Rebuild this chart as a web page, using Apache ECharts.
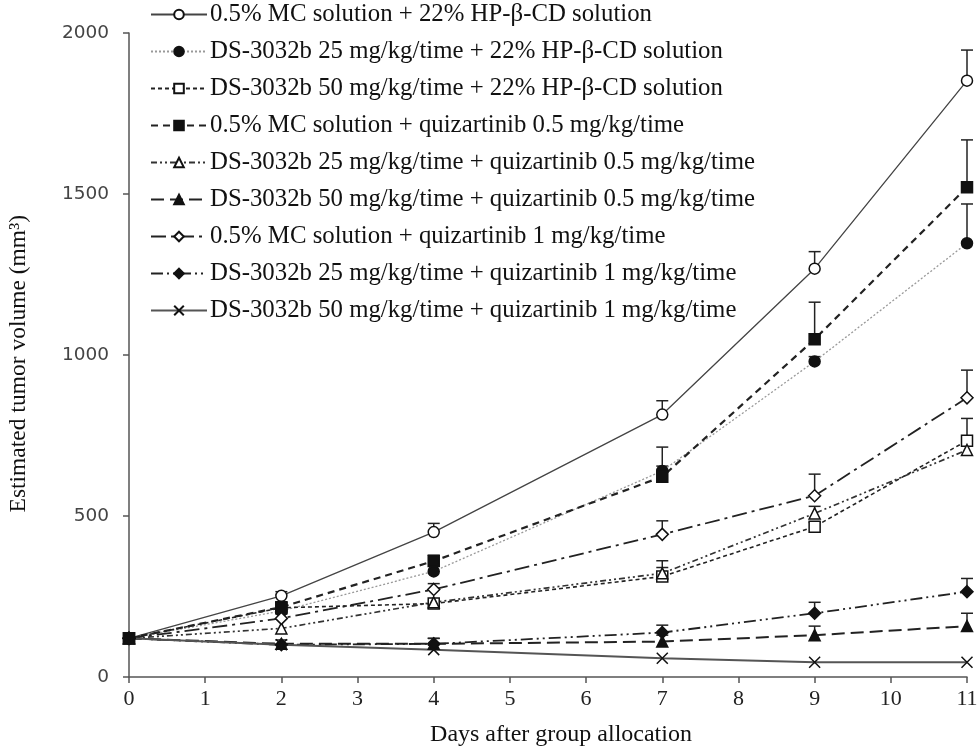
<!DOCTYPE html>
<html>
<head>
<meta charset="utf-8">
<script src="https://cdn.jsdelivr.net/npm/echarts@6/dist/echarts.min.js"></script>
<style>html,body{margin:0;padding:0;background:#fff;}#c{width:977px;height:748px;}</style>
</head>
<body>
<div id="c"></div>
<script>
const days = [0, 2, 4, 7, 9, 11];
const xTicks = [0,1,2,3,4,5,6,7,8,9,10,11];
const yTicks = [0, 500, 1000, 1500, 2000];

const names = [
  '0.5% MC solution + 22% HP-β-CD solution',
  'DS-3032b 25 mg/kg/time + 22% HP-β-CD solution',
  'DS-3032b 50 mg/kg/time + 22% HP-β-CD solution',
  '0.5% MC solution + quizartinib 0.5 mg/kg/time',
  'DS-3032b 25 mg/kg/time + quizartinib 0.5 mg/kg/time',
  'DS-3032b 50 mg/kg/time + quizartinib 0.5 mg/kg/time',
  '0.5% MC solution + quizartinib 1 mg/kg/time',
  'DS-3032b 25 mg/kg/time + quizartinib 1 mg/kg/time',
  'DS-3032b 50 mg/kg/time + quizartinib 1 mg/kg/time'
];

// mean values
const mcHp     = [120, 252, 450, 815, 1268, 1852];
const ds25Hp   = [120, 205, 328, 640, 980, 1347];
const ds50Hp   = [120, 215, 228, 312, 467, 734];
const mcQ05    = [120, 217, 360, 622, 1049, 1521];
const ds25Q05  = [120, 151, 232, 322, 508, 705];
const ds50Q05  = [120, 103, 103, 110, 130, 158];
const mcQ1     = [120, 182, 272, 443, 563, 867];
const ds25Q1   = [120, 100, 103, 138, 198, 265];
const ds50Q1   = [120, 100, 85, 58, 46, 46];

// upper error bar ends
const mcHpTop    = [120, 265, 477, 858, 1321, 1947];
const ds25HpTop  = [120, 212, 338, 655, 995, 1469];
const ds50HpTop  = [120, 222, 240, 361, 480, 803];
const mcQ05Top   = [120, 230, 378, 714, 1164, 1668];
const ds25Q05Top = [120, 160, 240, 340, 530, 720];
const ds50Q05Top = [120, 112, 120, 130, 158, 198];
const mcQ1Top    = [120, 195, 290, 485, 630, 953];
const ds25Q1Top  = [120, 115, 120, 161, 232, 306];
const ds50Q1Top  = [120, 112, 100, 65, 52, 52];

const means = [mcHp, ds25Hp, ds50Hp, mcQ05, ds25Q05, ds50Q05, mcQ1, ds25Q1, ds50Q1];
const tops  = [mcHpTop, ds25HpTop, ds50HpTop, mcQ05Top, ds25Q05Top, ds50Q05Top, mcQ1Top, ds25Q1Top, ds50Q1Top];

const styles = [
  {symbol:'circle', fill:'#fff', size:11, color:'#444', width:1.3, type:'solid'},
  {symbol:'circle', fill:'#111', size:11, color:'#999', width:1.3, type:[2,2]},
  {symbol:'rect', fill:'#fff', size:11, color:'#222', width:1.6, type:[4,3]},
  {symbol:'rect', fill:'#111', size:11, color:'#222', width:2.2, type:[7,5]},
  {symbol:'triangle', fill:'#fff', size:11, color:'#333', width:1.7, type:[6,3,2,3,2,3]},
  {symbol:'triangle', fill:'#111', size:11, color:'#222', width:2, type:[13,6]},
  {symbol:'diamond', fill:'#fff', size:12, color:'#222', width:1.8, type:[15,5,3,5]},
  {symbol:'diamond', fill:'#111', size:12, color:'#222', width:1.8, type:[12,4,2,4,2,4]},
  {symbol:'path://M0,0L10,10M10,0L0,10', fill:'#fff', size:11, color:'#555', width:2, type:'solid'}
];

const series = [];
names.forEach((n, i) => {
  const st = styles[i];
  series.push({
    name: n, type: 'line', z: 3,
    data: days.map((d, k) => [d, means[i][k]]),
    symbol: st.symbol, symbolSize: st.size, showAllSymbol: true,
    lineStyle: {color: st.color, width: st.width, type: st.type},
    itemStyle: {color: st.fill, borderColor: '#111', borderWidth: 1.5},
    emphasis: {disabled: true},
    animation: false
  });
  series.push({
    type: 'custom', z: 2, silent: true, animation: false,
    data: days.map((d, k) => [d, means[i][k], tops[i][k]]),
    renderItem: function (params, api) {
      const p0 = api.coord([api.value(0), api.value(1)]);
      const p1 = api.coord([api.value(0), api.value(2)]);
      if (Math.abs(p0[1] - p1[1]) < 4) return null;
      const s = {stroke: '#222', lineWidth: 1.5};
      return {type: 'group', children: [
        {type: 'line', shape: {x1: p0[0], y1: p0[1], x2: p1[0], y2: p1[1]}, style: s},
        {type: 'line', shape: {x1: p1[0] - 6, y1: p1[1], x2: p1[0] + 6, y2: p1[1]}, style: s}
      ]};
    }
  });
});

const chart = echarts.init(document.getElementById('c'), null, {renderer: 'canvas'});
chart.setOption({
  backgroundColor: '#fff',
  animation: false,
  grid: {left: 129, right: 10, top: 33, bottom: 71, containLabel: false, outerBoundsMode: 'none'},
  legend: {
    data: names, orient: 'vertical', left: 150, top: 2, padding: 0,
    itemWidth: 56, itemHeight: 12, itemGap: 12,
    textStyle: {fontFamily: 'Liberation Serif', fontSize: 24.8, color: '#111', padding: [0,0,0,-2]},
    selectedMode: false
  },
  xAxis: {
    type: 'value', min: 0, max: 11, interval: 1,
    name: 'Days after group allocation', nameLocation: 'middle', nameGap: 46,
    nameTextStyle: {fontFamily: 'Liberation Serif', fontSize: 24, color: '#111', padding: [0,0,0,26]},
    axisLine: {lineStyle: {color: '#555', width: 1.5}},
    axisTick: {show: true, length: 6, lineStyle: {color: '#555', width: 1.5}},
    axisLabel: {fontFamily: 'Liberation Serif', fontSize: 22, color: '#222', margin: 11,
      formatter: v => xTicks.includes(v) ? String(v) : ''},
    splitLine: {show: false}
  },
  yAxis: {
    type: 'value', min: 0, max: 2000, interval: 500,
    axisLine: {show: true, lineStyle: {color: '#555', width: 1.5}},
    axisTick: {show: true, length: 6, lineStyle: {color: '#555', width: 1.5}},
    axisLabel: {fontFamily: 'DejaVu Sans', fontSize: 18.5, color: '#444', margin: 20,
      formatter: v => yTicks.includes(v) ? String(v) : ''},
    splitLine: {show: false}
  },
  graphic: [{
    type: 'text', left: 7, top: 215, rotation: Math.PI / 2,
    style: {text: 'Estimated tumor volume (mm³)', fontFamily: 'Liberation Serif', fontSize: 23.5, fill: '#111'}
  }],
  series: series
});
</script>
</body>
</html>
